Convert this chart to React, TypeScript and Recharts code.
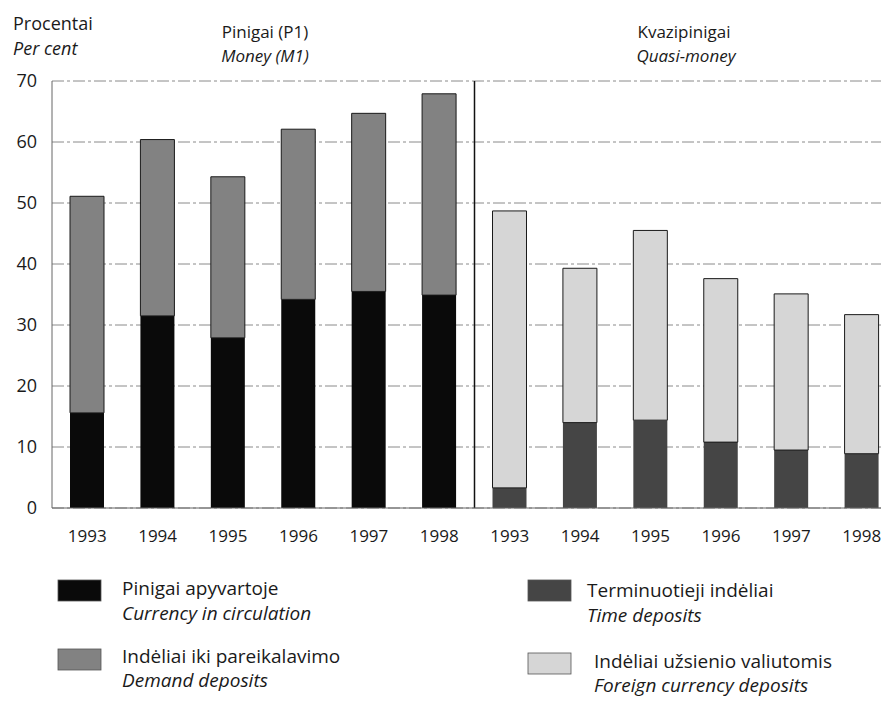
import { BarChart, Bar, XAxis, YAxis, CartesianGrid, ReferenceLine } from 'recharts';

const years = ['1993', '1994', '1995', '1996', '1997', '1998'];
// Money (M1)
const currency = [15.6, 31.5, 27.9, 34.2, 35.5, 34.9];
const demand = [35.5, 28.9, 26.4, 27.9, 29.2, 33.0];
// Quasi-money
const timeDeposits = [3.3, 14.0, 14.4, 10.8, 9.5, 8.9];
const foreign = [45.4, 25.3, 31.1, 26.8, 25.6, 22.8];
const yTicks = [0, 10, 20, 30, 40, 50, 60, 70];

const colors = {
  currency: '#0a0a0a',
  demand: '#828282',
  time: '#454545',
  foreign: '#d6d6d6',
};

const data = [
  ...years.map((y, i) => ({ id: `M1-${y}`, year: y, currency: currency[i], demand: demand[i] })),
  ...years.map((y, i) => ({ id: `QM-${y}`, year: y, time: timeDeposits[i], foreign: foreign[i] })),
];

const font = '"Open Sans", sans-serif';

const legendItems = [
  { color: colors.currency, lt: 'Pinigai apyvartoje', en: 'Currency in circulation', x: 50, y: 572, tx: 114, b1: 587, b2: 612 },
  { color: colors.demand, lt: 'Indėliai iki pareikalavimo', en: 'Demand deposits', x: 50, y: 641, tx: 114, b1: 655, b2: 679 },
  { color: colors.time, lt: 'Terminuotieji indėliai', en: 'Time deposits', x: 520, y: 572, tx: 579, b1: 589, b2: 614 },
  { color: colors.foreign, lt: 'Indėliai užsienio valiutomis', en: 'Foreign currency deposits', x: 520, y: 645, tx: 586, b1: 660, b2: 684 },
];

export default function App() {
  return (
    <div style={{ position: 'relative', width: 881, height: 690, overflow: 'hidden', fontFamily: font }}>
      <BarChart
        width={900}
        height={560}
        data={data}
        margin={{ top: 73, right: 11, bottom: 20, left: 0 }}
      >
        <CartesianGrid vertical={false} stroke="#8a8a8a" strokeDasharray="12 3 3 3" />
        <XAxis
          dataKey="id"
          interval={0}
          height={40}
          tickFormatter={(v: string) => v.split('-')[1]}
          tickLine={false}
          tickSize={6}
          tickMargin={16}
          axisLine={{ stroke: '#666' }}
          tick={{ fill: '#1a1a1a', fontSize: 17, fontFamily: font }}
        />
        <YAxis
          width={44}
          domain={[0, 70]}
          ticks={yTicks}
          tickLine={false}
          tickSize={6}
          tickMargin={9}
          axisLine={{ stroke: '#666' }}
          tick={{ fill: '#1a1a1a', fontSize: 18, fontFamily: font }}
        />
        <Bar dataKey="currency" stackId="s" barSize={34} fill={colors.currency} isAnimationActive={false} />
        <Bar dataKey="demand" stackId="s" barSize={34} fill={colors.demand} stroke="#1a1a1a" strokeWidth={1} isAnimationActive={false} />
        <Bar dataKey="time" stackId="s" barSize={34} fill={colors.time} isAnimationActive={false} />
        <Bar dataKey="foreign" stackId="s" barSize={34} fill={colors.foreign} stroke="#1a1a1a" strokeWidth={1} isAnimationActive={false} />
        <ReferenceLine x="QM-1993" position="start" stroke="#111" strokeWidth={1.5} />
      </BarChart>

      <svg
        width={881}
        height={690}
        style={{ position: 'absolute', left: 0, top: 0, pointerEvents: 'none' }}
        fontFamily={font}
        fill="#1a1a1a"
      >
        <text x={5} y={22} fontSize={18}>Procentai</text>
        <text x={5} y={47} fontSize={18} fontStyle="italic">Per cent</text>
        <text x={257} y={30} fontSize={17} textAnchor="middle">Pinigai (P1)</text>
        <text x={257} y={54} fontSize={17} textAnchor="middle" fontStyle="italic">Money (M1)</text>
        <text x={676} y={30} fontSize={17} textAnchor="middle">Kvazipinigai</text>
        <text x={678} y={54} fontSize={17} textAnchor="middle" fontStyle="italic">Quasi-money</text>

        {legendItems.map((it) => (
          <g key={it.lt}>
            <rect x={it.x} y={it.y} width={43} height={21} fill={it.color} stroke="#555" strokeWidth={0.8} />
            <text x={it.tx} y={it.b1} fontSize={19}>{it.lt}</text>
            <text x={it.tx} y={it.b2} fontSize={19} fontStyle="italic">{it.en}</text>
          </g>
        ))}
      </svg>
    </div>
  );
}
